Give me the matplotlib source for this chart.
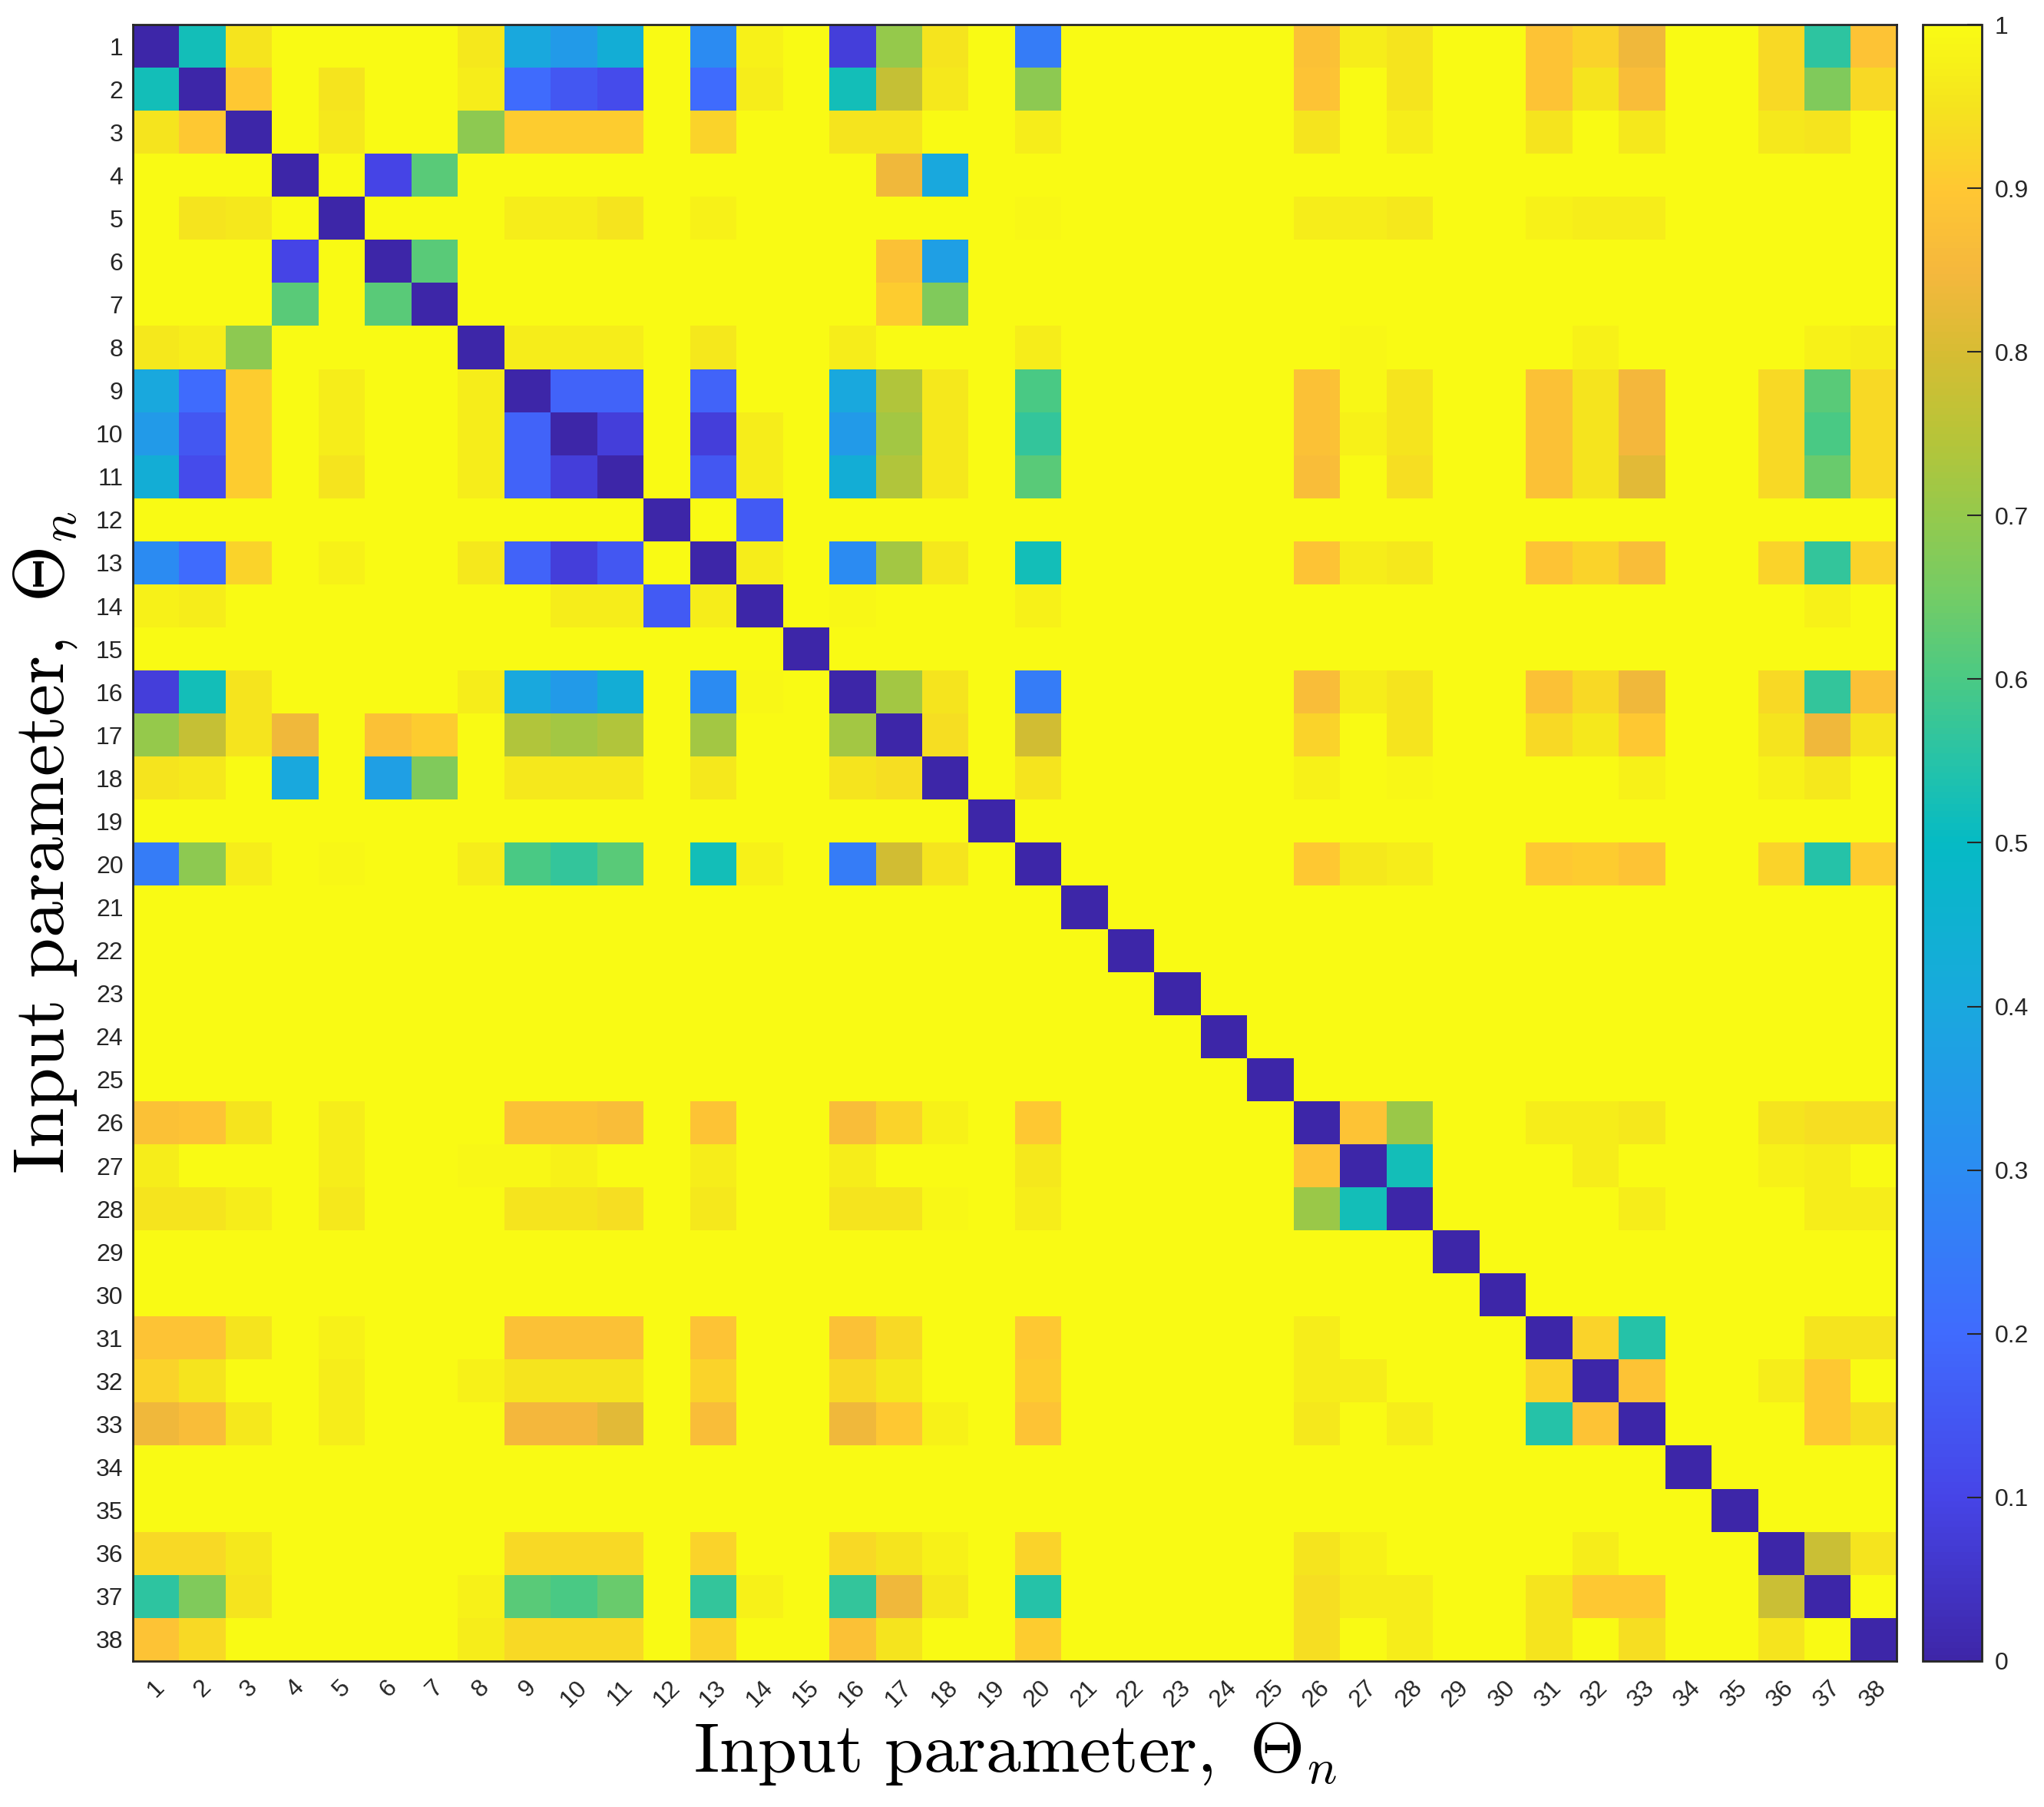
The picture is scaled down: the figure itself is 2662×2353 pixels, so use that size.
import numpy as np
import matplotlib
matplotlib.use("Agg")
import matplotlib.pyplot as plt
from matplotlib.colors import LinearSegmentedColormap

n_params = 38
labels = [str(k) for k in range(1, n_params + 1)]

# upper-triangle entries that differ from 1 (matrix is symmetric, diagonal = 0)
pairs = [
    (1, 2), (1, 3), (1, 8), (1, 9), (1, 10), (1, 11), (1, 13), (1, 14), (1, 16), (1, 17),
    (1, 18), (1, 20), (1, 26), (1, 27), (1, 28), (1, 31), (1, 32), (1, 33), (1, 36), (1, 37), (1, 38),
    (2, 3), (2, 5), (2, 8), (2, 9), (2, 10), (2, 11), (2, 13), (2, 14), (2, 16), (2, 17),
    (2, 18), (2, 20), (2, 26), (2, 28), (2, 31), (2, 32), (2, 33), (2, 36), (2, 37), (2, 38),
    (3, 5), (3, 8), (3, 9), (3, 10), (3, 11), (3, 13), (3, 16), (3, 17), (3, 20), (3, 26),
    (3, 28), (3, 31), (3, 33), (3, 36), (3, 37),
    (4, 6), (4, 7), (4, 17), (4, 18),
    (5, 9), (5, 10), (5, 11), (5, 13), (5, 20), (5, 26), (5, 27), (5, 28), (5, 31), (5, 32), (5, 33),
    (6, 7), (6, 17), (6, 18), (7, 17), (7, 18),
    (8, 9), (8, 10), (8, 11), (8, 13), (8, 16), (8, 20), (8, 27), (8, 32), (8, 37), (8, 38),
    (9, 10), (9, 11), (9, 13), (9, 16), (9, 17), (9, 18), (9, 20), (9, 26), (9, 27), (9, 28),
    (9, 31), (9, 32), (9, 33), (9, 36), (9, 37), (9, 38),
    (10, 11), (10, 13), (10, 14), (10, 16), (10, 17), (10, 18), (10, 20), (10, 26), (10, 27), (10, 28),
    (10, 31), (10, 32), (10, 33), (10, 36), (10, 37), (10, 38),
    (11, 13), (11, 14), (11, 16), (11, 17), (11, 18), (11, 20), (11, 26), (11, 28), (11, 31), (11, 32),
    (11, 33), (11, 36), (11, 37), (11, 38),
    (12, 14),
    (13, 14), (13, 16), (13, 17), (13, 18), (13, 20), (13, 26), (13, 27), (13, 28), (13, 31), (13, 32),
    (13, 33), (13, 36), (13, 37), (13, 38),
    (14, 16), (14, 20), (14, 37),
    (16, 17), (16, 18), (16, 20), (16, 26), (16, 27), (16, 28), (16, 31), (16, 32), (16, 33), (16, 36),
    (16, 37), (16, 38),
    (17, 18), (17, 20), (17, 26), (17, 28), (17, 31), (17, 32), (17, 33), (17, 36), (17, 37), (17, 38),
    (18, 20), (18, 26), (18, 28), (18, 33), (18, 36), (18, 37),
    (20, 26), (20, 27), (20, 28), (20, 31), (20, 32), (20, 33), (20, 36), (20, 37), (20, 38),
    (26, 27), (26, 28), (26, 31), (26, 32), (26, 33), (26, 36), (26, 37), (26, 38),
    (27, 28), (27, 32), (27, 36), (27, 37),
    (28, 33), (28, 37), (28, 38),
    (31, 32), (31, 33), (31, 37), (31, 38),
    (32, 33), (32, 36), (32, 37),
    (33, 37), (33, 38),
    (36, 37), (36, 38),
]
values = [
    0.52, 0.95, 0.96, 0.40, 0.35, 0.43, 0.30, 0.98, 0.08, 0.70,
    0.95, 0.25, 0.88, 0.97, 0.95, 0.89, 0.92, 0.84, 0.93, 0.56, 0.89,
    0.90, 0.95, 0.97, 0.20, 0.15, 0.12, 0.20, 0.97, 0.52, 0.77,
    0.96, 0.69, 0.89, 0.95, 0.89, 0.95, 0.87, 0.93, 0.67, 0.93,
    0.96, 0.69, 0.91, 0.91, 0.91, 0.92, 0.95, 0.95, 0.97, 0.95,
    0.97, 0.95, 0.96, 0.96, 0.95,
    0.10, 0.62, 0.84, 0.40,
    0.97, 0.97, 0.95, 0.98, 0.99, 0.97, 0.97, 0.96, 0.98, 0.97, 0.97,
    0.62, 0.88, 0.37, 0.91, 0.67,
    0.97, 0.97, 0.97, 0.96, 0.97, 0.97, 0.99, 0.98, 0.98, 0.97,
    0.18, 0.18, 0.18, 0.40, 0.74, 0.96, 0.60, 0.88, 0.99, 0.95,
    0.88, 0.95, 0.85, 0.93, 0.62, 0.93,
    0.08, 0.08, 0.97, 0.35, 0.72, 0.96, 0.57, 0.88, 0.98, 0.95,
    0.88, 0.95, 0.85, 0.93, 0.60, 0.93,
    0.15, 0.97, 0.43, 0.74, 0.96, 0.62, 0.87, 0.94, 0.88, 0.95,
    0.82, 0.93, 0.64, 0.93,
    0.16,
    0.97, 0.30, 0.72, 0.96, 0.52, 0.89, 0.97, 0.96, 0.89, 0.92,
    0.87, 0.92, 0.57, 0.92,
    0.99, 0.98, 0.98,
    0.72, 0.95, 0.25, 0.87, 0.97, 0.95, 0.88, 0.93, 0.84, 0.93,
    0.57, 0.88,
    0.94, 0.79, 0.92, 0.95, 0.93, 0.96, 0.90, 0.95, 0.84, 0.95,
    0.95, 0.98, 0.99, 0.98, 0.98, 0.96,
    0.90, 0.96, 0.97, 0.90, 0.91, 0.89, 0.92, 0.55, 0.91,
    0.89, 0.71, 0.97, 0.97, 0.96, 0.95, 0.94, 0.94,
    0.52, 0.97, 0.98, 0.97,
    0.97, 0.97, 0.97,
    0.92, 0.55, 0.95, 0.95,
    0.89, 0.97, 0.90,
    0.90, 0.94,
    0.78, 0.95,
]
cbar_ticks = [0, 0.1, 0.2, 0.3, 0.4, 0.5, 0.6, 0.7, 0.8, 0.9, 1]
cbar_labels = ["0", "0.1", "0.2", "0.3", "0.4", "0.5", "0.6", "0.7", "0.8", "0.9", "1"]

M = np.ones((n_params, n_params))
for (i, j), v in zip(pairs, values):
    M[i - 1, j - 1] = v
    M[j - 1, i - 1] = v
np.fill_diagonal(M, 0.0)

# parula-like colormap
parula_pts = [
    (0.00, (0.243, 0.150, 0.660)),
    (0.10, (0.275, 0.270, 0.910)),
    (0.20, (0.250, 0.420, 0.995)),
    (0.30, (0.170, 0.550, 0.950)),
    (0.40, (0.100, 0.660, 0.870)),
    (0.50, (0.020, 0.730, 0.770)),
    (0.55, (0.150, 0.765, 0.660)),
    (0.60, (0.290, 0.790, 0.520)),
    (0.65, (0.450, 0.800, 0.400)),
    (0.70, (0.580, 0.790, 0.300)),
    (0.75, (0.720, 0.770, 0.220)),
    (0.80, (0.840, 0.740, 0.200)),
    (0.85, (0.960, 0.720, 0.240)),
    (0.90, (1.000, 0.780, 0.200)),
    (0.95, (0.960, 0.890, 0.120)),
    (1.00, (0.977, 0.984, 0.080)),
]
parula = LinearSegmentedColormap.from_list("parula", parula_pts, N=256)

plt.rcParams["mathtext.fontset"] = "cm"
tick_font = ["Liberation Sans", "DejaVu Sans"]

fig = plt.figure(figsize=(26.62, 23.53), dpi=100)
ax = fig.add_axes([0.065, 0.0808, 0.8629, 0.9056])
im = ax.imshow(M, cmap=parula, vmin=0, vmax=1, aspect="auto", interpolation="nearest",
               extent=(0.5, n_params + 0.5, n_params + 0.5, 0.5))

ticks = np.arange(1, n_params + 1)
ax.set_xticks(ticks)
ax.set_yticks(ticks)
ax.set_xticklabels(labels, rotation=45, ha="center", va="top", family=tick_font)
ax.set_yticklabels(labels, family=tick_font)
ax.tick_params(length=0, labelsize=23, colors="#262626")
ax.tick_params(axis="x", pad=14)
ax.tick_params(axis="y", pad=9)
for s in ax.spines.values():
    s.set_linewidth(2)
    s.set_color("#262626")

ax.set_xlabel(r"$\mathrm{Input\ parameter,\ }\Theta_n$", fontsize=66, labelpad=6)
ax.set_ylabel(r"$\mathrm{Input\ parameter,\ }\Theta_n$", fontsize=68, labelpad=16)

cax = fig.add_axes([0.9406, 0.0808, 0.0289, 0.9056])
cb = fig.colorbar(im, cax=cax, ticks=cbar_ticks)
cb.ax.set_yticklabels(cbar_labels, family=tick_font)
cb.ax.tick_params(direction="in", length=14, width=1.5, labelsize=23, colors="#262626", pad=12)
cb.outline.set_linewidth(2)
cb.outline.set_edgecolor("#262626")

fig.savefig("out.png", dpi=100)
